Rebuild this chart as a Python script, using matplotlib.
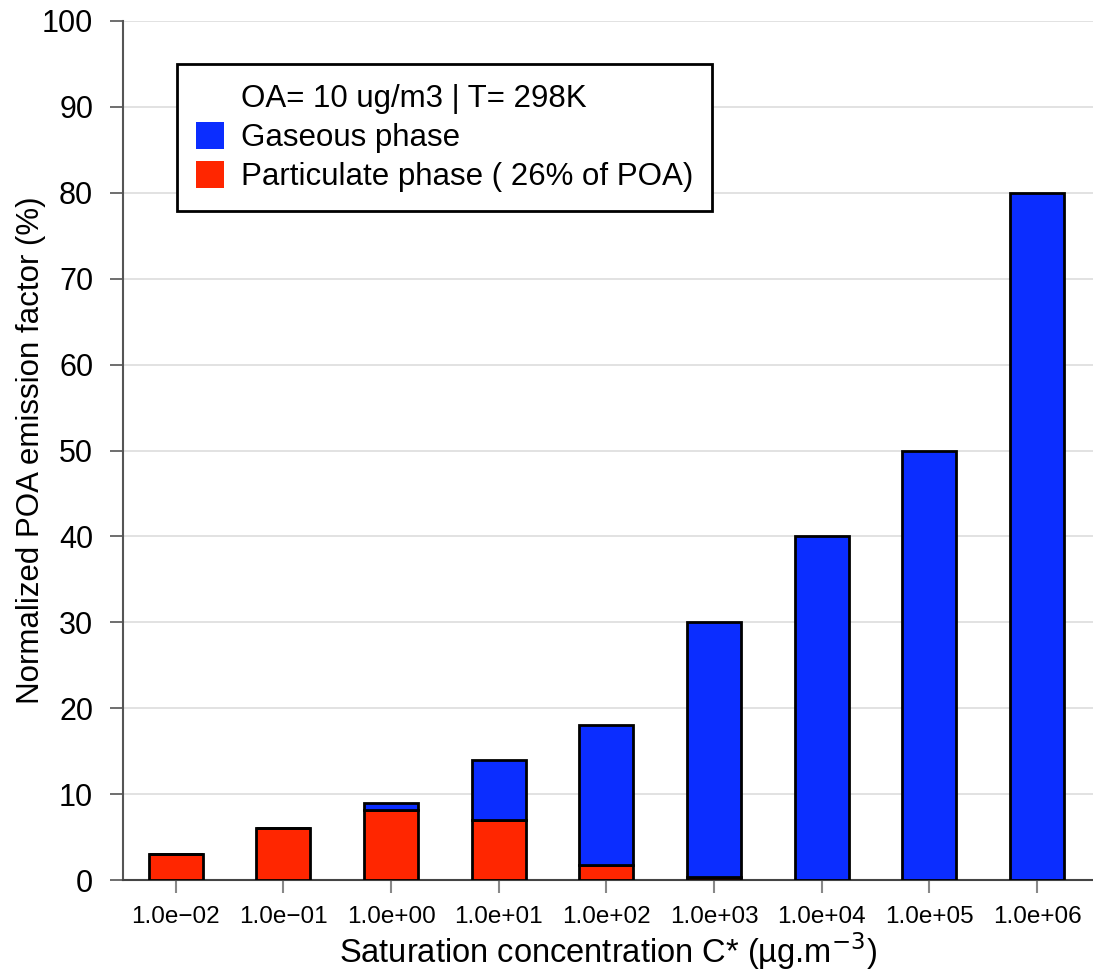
import matplotlib.pyplot as plt
from matplotlib.patches import Patch

plt.rcParams['font.family'] = ['Liberation Sans', 'DejaVu Sans']

# saturation concentration bins
labels = ['1.0e\u221202', '1.0e\u221201', '1.0e+00', '1.0e+01', '1.0e+02',
          '1.0e+03', '1.0e+04', '1.0e+05', '1.0e+06']
particulate = [3, 6, 8.1, 7, 1.7, 0.3, 0, 0, 0]
gaseous = [0, 0, 0.9, 7, 16.3, 29.7, 40, 50, 80]

blue = '#0b2dff'
red = '#ff2600'

fig = plt.figure(figsize=(10.93, 9.76), dpi=100)
ax = fig.add_axes([123 / 1093, 1 - 880 / 976, 1 - 123 / 1093, 859 / 976])

x = list(range(len(labels)))
ax.bar(x, particulate, width=0.5, color=red, edgecolor='black', linewidth=2, zorder=3)
ax.bar(x, gaseous, width=0.5, bottom=particulate, color=blue, edgecolor='black',
       linewidth=2, zorder=3)

ax.set_xlim(-0.49, 8.52)
ax.set_ylim(0, 100)
ax.set_yticks(range(0, 101, 10))
ax.set_xticks(x)
ax.set_xticklabels(labels, fontsize=17.5)
ax.tick_params(axis='y', labelsize=22, length=9.5, width=1.2, color='#555555', pad=12)
ax.tick_params(axis='x', length=9.5, width=1.5, color='#888888', pad=9)

ax.grid(axis='y', color='#dddddd', linewidth=1.2, zorder=0)
for s in ['top', 'right']:
    ax.spines[s].set_visible(False)
ax.spines['left'].set_color('#555555')
ax.spines['left'].set_linewidth(1.5)
ax.spines['bottom'].set_color('#444444')
ax.spines['bottom'].set_linewidth(1.5)

ax.set_ylabel('Normalized POA emission factor (%)', fontsize=22.5, labelpad=-3)
ax.set_xlabel('Saturation concentration C* (\u00b5g.m$^{-3}$)', fontsize=23.5, labelpad=2)

handles = [Patch(facecolor='none', edgecolor='none'),
           Patch(facecolor=blue, edgecolor='none'),
           Patch(facecolor=red, edgecolor='none')]
leg_labels = ['OA= 10 ug/m3 | T= 298K', 'Gaseous phase', 'Particulate phase ( 26% of POA)']
leg = ax.legend(handles, leg_labels, loc='upper left', bbox_to_anchor=(0.0557, 0.95),
                borderaxespad=0, fontsize=22.5, fancybox=False, framealpha=1,
                edgecolor='black', handlelength=0.9, handleheight=0.95,
                handletextpad=0.55, labelspacing=0.25, borderpad=0.6)
leg.get_frame().set_linewidth(2)

fig.savefig('out.png', dpi=100)
